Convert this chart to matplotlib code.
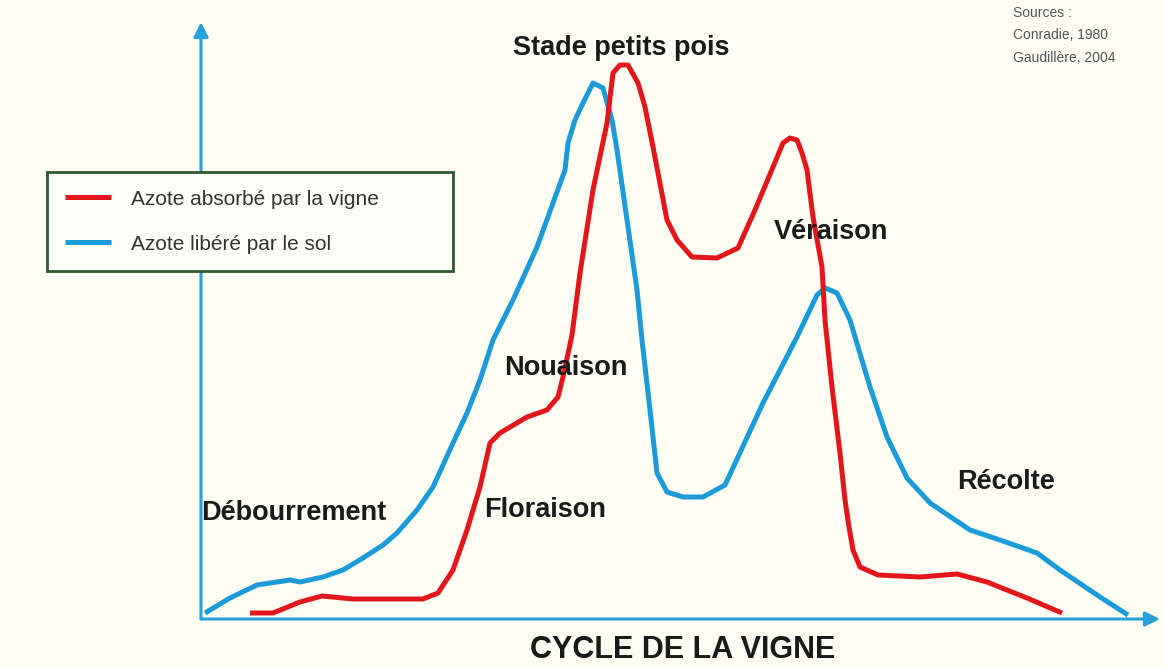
import matplotlib
matplotlib.use("Agg")
import matplotlib.pyplot as plt
import matplotlib.font_manager as fm

names = {f.name for f in fm.fontManager.ttflist}
NARROW = 'Liberation Sans Narrow' if 'Liberation Sans Narrow' in names else 'Liberation Sans'
plt.rcParams['font.family'] = [NARROW, 'Liberation Sans', 'DejaVu Sans']

# ---- data (arbitrary units: cycle position, nitrogen level) ----
sol_x = [4, 29, 56, 89, 99, 122, 142, 162, 182, 196, 216, 232, 252, 266, 279, 292, 312, 336,
         364, 367, 374, 382, 392, 402, 411, 416, 426, 436, 441, 449, 456, 466, 482, 502, 524,
         562, 596, 616, 624, 636, 649, 669, 686, 706, 729, 769, 799, 836, 859, 899, 927]
sol_y = [6, 21, 34, 39, 37, 42, 49, 61, 74, 86, 109, 132, 176, 206, 239, 279, 319, 372,
         449, 476, 499, 516, 536, 531, 499, 469, 399, 329, 279, 209, 146, 127, 122, 122, 134,
         216, 282, 324, 331, 326, 299, 232, 182, 141, 116, 89, 79, 66, 49, 22, 4]

vigne_x = [49, 72, 99, 121, 152, 222, 237, 252, 266, 279, 289, 299, 326, 346, 357, 362, 371,
           379, 392, 406, 412, 419, 427, 437, 444, 452, 466, 476, 491, 516, 537, 554, 572,
           582, 589, 596, 601, 606, 612, 621, 624, 631, 639, 644, 648, 652, 659, 677, 719,
           756, 786, 826, 861]
vigne_y = [6, 6, 17, 23, 20, 20, 26, 49, 89, 132, 176, 186, 202, 209, 222, 242, 284,
           346, 429, 496, 546, 554, 554, 536, 512, 472, 399, 379, 362, 361, 371, 409, 452,
           476, 481, 479, 466, 449, 402, 352, 299, 232, 166, 119, 92, 69, 52, 44, 42,
           45, 37, 21, 6]

series_labels = ["Azote absorbé par la vigne", "Azote libéré par le sol"]
stage_labels = ["Débourrement", "Floraison", "Nouaison", "Stade petits pois", "Véraison", "Récolte"]
stage_pos_x = [93, 344, 365, 420, 630, 805]
stage_pos_y = [106, 109, 251, 571, 387, 137]
x_title = "CYCLE DE LA VIGNE"
sources = "Sources :\nConradie, 1980\nGaudillère, 2004"

RED = '#e3161b'
BLUE = '#1b9bd7'
AXBLUE = '#2aa0da'
BG = '#fdfdf4'

W, H = 1165, 668
fig = plt.figure(figsize=(W / 100, H / 100), dpi=100, facecolor=BG)
x0, y0, x1, y1 = 201, 619, 1160, 22
ax = fig.add_axes([x0 / W, 1 - y0 / H, (x1 - x0) / W, (y0 - y1) / H])
ax.set_facecolor(BG)
ax.set_xlim(0, x1 - x0)
ax.set_ylim(0, y0 - y1)
for s in ax.spines.values():
    s.set_visible(False)
ax.set_xticks([])
ax.set_yticks([])

# axes arrows
ax.annotate('', xy=(1, 0), xytext=(0, 0), xycoords='axes fraction',
            arrowprops=dict(arrowstyle='-|>', color=AXBLUE, lw=2.2, mutation_scale=22,
                            shrinkA=0, shrinkB=0), annotation_clip=False)
ax.annotate('', xy=(0, 1), xytext=(0, 0), xycoords='axes fraction',
            arrowprops=dict(arrowstyle='-|>', color=AXBLUE, lw=2.2, mutation_scale=22,
                            shrinkA=0, shrinkB=0), annotation_clip=False)

l1, = ax.plot(vigne_x, vigne_y, color=RED, lw=3.6, solid_joinstyle='round',
              solid_capstyle='butt', label=series_labels[0], zorder=3)
l2, = ax.plot(sol_x, sol_y, color=BLUE, lw=3.6, solid_joinstyle='round',
              solid_capstyle='butt', label=series_labels[1], zorder=2)

for lab, sx, sy in zip(stage_labels, stage_pos_x, stage_pos_y):
    ax.text(sx, sy, lab, fontsize=19.5, fontweight='bold', color='#1a1a1a',
            ha='center', va='center', zorder=4)

fig.text(683 / W, 1 - 650 / H, x_title, fontsize=22, fontweight='bold', color='#1a1a1a',
         ha='center', va='center')

fig.text(1013 / W, 1 - 6 / H, sources, fontsize=10, color='#555555', ha='left', va='top',
         linespacing=1.75, family=['Liberation Sans', 'DejaVu Sans'])

leg = fig.legend(handles=[l1, l2], labels=series_labels,
                 bbox_to_anchor=(47 / W, 1 - 272 / H, 406 / W, 100 / H),
                 loc='upper left', mode='expand', fontsize=15, handlelength=2.2,
                 handletextpad=1.0, labelspacing=1.25, borderpad=0.85, fancybox=False,
                 frameon=True, borderaxespad=0)
fr = leg.get_frame()
fr.set_edgecolor('#2e5a2e')
fr.set_linewidth(2)
fr.set_facecolor('#fefef9')
fr.set_alpha(1)
for t in leg.get_texts():
    t.set_color('#333333')

fig.savefig('out.png', dpi=100, facecolor=BG)
